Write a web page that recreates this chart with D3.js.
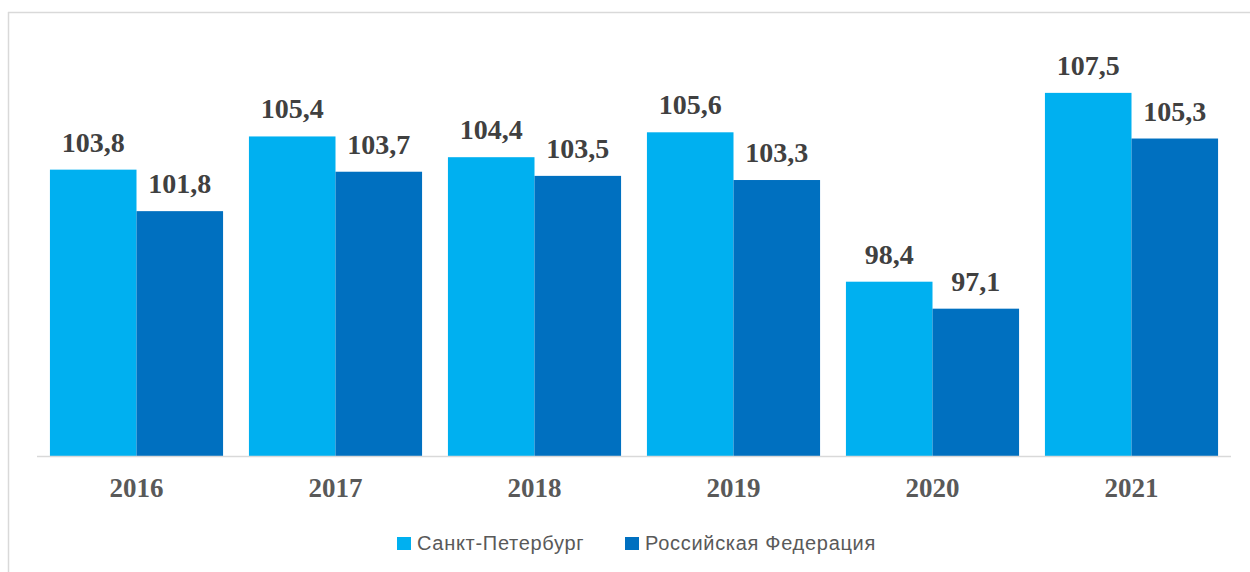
<!DOCTYPE html>
<html>
<head>
<meta charset="utf-8">
<script src="https://cdn.jsdelivr.net/npm/d3@7"></script>
<style>
  html, body { margin: 0; padding: 0; background: #fff; }
  svg { display: block; }
</style>
</head>
<body>
<div id="chart"></div>
<script>
const years = ["2016", "2017", "2018", "2019", "2020", "2021"];
const seriesNames = ["Санкт-Петербург", "Российская Федерация"];
const spb = [103.8, 105.4, 104.4, 105.6, 98.4, 107.5];
const rf = [101.8, 103.7, 103.5, 103.3, 97.1, 105.3];
const colors = ["#00b0f0", "#0070c0"];

const width = 1250, height = 572;

const svg = d3.select("#chart").append("svg")
    .attr("width", width)
    .attr("height", height);

// frame (top + left edge visible)
svg.append("line").attr("x1", 8).attr("x2", width).attr("y1", 12.5).attr("y2", 12.5)
    .attr("stroke", "#d9d9d9").attr("stroke-width", 1.5);
svg.append("line").attr("x1", 8.5).attr("x2", 8.5).attr("y1", 12).attr("y2", height)
    .attr("stroke", "#d9d9d9").attr("stroke-width", 1.5);

const x = d3.scaleBand()
    .domain(years)
    .range([37, 1231])
    .paddingInner(0.13)
    .paddingOuter(0.065);

const xSub = d3.scaleBand()
    .domain([0, 1])
    .range([0, x.bandwidth()]);

const y = d3.scaleLinear()
    .domain([90, 110])
    .range([456, 41]);

const rows = years.map((yr, i) => ({ year: yr, vals: [spb[i], rf[i]] }));

const groups = svg.selectAll(".grp")
    .data(rows)
    .enter()
    .append("g")
    .attr("class", "grp")
    .attr("transform", d => `translate(${x(d.year)},0)`);

groups.selectAll("rect")
    .data(d => d.vals)
    .enter()
    .append("rect")
    .attr("x", (d, i) => xSub(i))
    .attr("width", xSub.bandwidth())
    .attr("y", d => y(d))
    .attr("height", d => y(90) - y(d))
    .attr("fill", (d, i) => colors[i]);

groups.selectAll("text.val")
    .data(d => d.vals)
    .enter()
    .append("text")
    .attr("class", "val")
    .attr("x", (d, i) => xSub(i) + xSub.bandwidth() / 2)
    .attr("y", d => y(d) - 18)
    .attr("text-anchor", "middle")
    .attr("font-family", "'Liberation Serif', 'Times New Roman', serif")
    .attr("font-weight", "bold")
    .attr("font-size", 28)
    .attr("fill", "#404040")
    .text(d => d.toFixed(1).replace(".", ","));

// baseline
svg.append("line")
    .attr("x1", 37).attr("x2", 1231)
    .attr("y1", y(90) + 0.5).attr("y2", y(90) + 0.5)
    .attr("stroke", "#d9d9d9").attr("stroke-width", 1.5);

// category labels
svg.append("g").selectAll("text")
    .data(years)
    .enter()
    .append("text")
    .attr("x", d => x(d) + x.bandwidth() / 2)
    .attr("y", 497)
    .attr("text-anchor", "middle")
    .attr("font-family", "'Liberation Serif', 'Times New Roman', serif")
    .attr("font-weight", "bold")
    .attr("font-size", 27)
    .attr("fill", "#595959")
    .text(d => d);

// legend
const legendX = [397, 625];
const legend = svg.append("g").selectAll("g")
    .data(seriesNames)
    .enter()
    .append("g")
    .attr("transform", (d, i) => `translate(${legendX[i]},537)`);

legend.append("rect")
    .attr("width", 14).attr("height", 13)
    .attr("fill", (d, i) => colors[i]);

legend.append("text")
    .attr("x", 20)
    .attr("y", 12.5)
    .attr("font-family", "'Liberation Sans', Arial, sans-serif")
    .attr("font-size", 20)
    .attr("letter-spacing", 0.7)
    .attr("fill", "#595959")
    .text(d => d);
</script>
</body>
</html>
